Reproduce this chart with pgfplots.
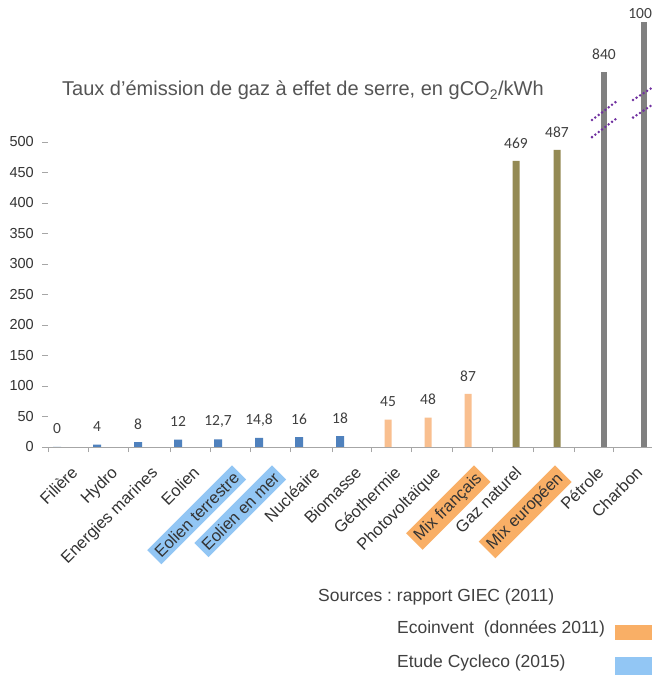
\documentclass[border=0pt]{standalone}
\usepackage{pgfplots}
\pgfplotsset{compat=1.18}
\usepackage{pgfplotstable}
\usepackage{fontspec}
\setmainfont{Liberation Sans}
\newfontfamily\calibri{Carlito}
\definecolor{barblue}{HTML}{4F81BD}
\definecolor{barorange}{HTML}{F9BF8F}
\definecolor{barolive}{HTML}{948A54}
\definecolor{bargray}{HTML}{808080}
\definecolor{hlblue}{HTML}{92C6F4}
\definecolor{hlorange}{HTML}{F9AF66}
\definecolor{breakpurple}{HTML}{7030A0}
\definecolor{txt}{HTML}{333333}
\definecolor{titlegray}{HTML}{555555}
\definecolor{labgray}{HTML}{404040}
\setlength{\fboxsep}{4pt}

\pgfplotstableread{
x y lab
57 0 0
97 4 4
138 8 8
178 12 12
218 12.7 12,7
259 14.8 14,8
299 16 16
340 18 18
}\bluedata
\pgfplotstableread{
x y lab
388 45 45
428 48 48
468 87 87
}\orangedata
\pgfplotstableread{
x y lab
516 469 469
557 487 487
}\olivedata
\pgfplotstableread{
x y lab
604 840 840
}\petroledata
\pgfplotstableread{
x y lab
644 1000 1000
}\charbondata

\begin{document}
\begin{tikzpicture}
\clip (0,0) rectangle (652pt,675pt);
\fill[white] (0,0) rectangle (652pt,675pt);
\begin{axis}[
  at={(48pt,228pt)}, anchor=south west,
  scale only axis, width=604pt, height=447pt,
  xmin=48, xmax=652, ymin=0, ymax=732.8,
  clip=false,
  axis lines*=left,
  y axis line style={draw=none},
  x axis line style={draw=black!35, line width=0.8pt},
  tick align=outside,
  major tick length=6pt,
  ytick={0,50,...,500},
  ytick style={draw=black!35, line width=0.8pt},
  yticklabel style={font=\fontsize{14.5}{16}\selectfont, text=txt, inner sep=0pt},
  yticklabel shift=8pt,
  /pgf/number format/assume math mode=true,
  xtick={70,110,150,192,232,272,312,354,393,433,474,514,555,596,635},
  xticklabels={Filière, Hydro, Energies marines, Eolien,
    {\colorbox{hlblue}{Eolien terrestre}}, {\colorbox{hlblue}{Eolien en mer}},
    Nucléaire, Biomasse, Géothermie, Photovoltaïque,
    {\colorbox{hlorange}{Mix français}}, Gaz naturel,
    {\colorbox{hlorange}{Mix européen}}, Pétrole, Charbon},
  xtick style={draw=none},
  xticklabel style={rotate=45, anchor=north east, inner sep=0pt,
    font=\fontsize{16.5}{18}\selectfont, text=txt},
  xticklabel shift=12pt,
  extra x ticks={48,88,128,170,210,250,290,332,371,411,452,492,533,574,613},
  extra x tick labels={},
  extra x tick style={xtick style={draw=black!35, line width=0.8pt}, major tick length=5pt},
  y filter/.expression={y>840 ? 615+(y-840)*82/160 : (y>500 ? 500+(y-500)*115/340 : y)},
]
\pgfplotsset{every axis plot/.append style={
  ybar, draw=none, nodes near coords, point meta=explicit symbolic,
  nodes near coords style={font=\calibri\fontsize{15.5}{15}\selectfont, text=labgray, anchor=center, yshift=18pt}}}
\addplot[fill=barblue, bar width=8pt] table[x=x,y=y,meta=lab]{\bluedata};
\addplot[fill=barorange, bar width=7pt] table[x=x,y=y,meta=lab]{\orangedata};
\addplot[fill=barolive, bar width=7pt] table[x=x,y=y,meta=lab]{\olivedata};
\addplot[fill=bargray, bar width=6pt] table[x=x,y=y,meta=lab]{\petroledata};
\addplot[fill=bargray, bar width=6pt, nodes near coords style={yshift=-10pt}] table[x=x,y=y,meta=lab]{\charbondata};
\begin{scope}[breakpurple, line width=2.8pt, dash pattern=on 0pt off 4.2pt, line cap=round]
\draw (axis cs:592,536) -- (axis cs:616,566);
\draw (axis cs:592,508) -- (axis cs:616,538);
\draw (axis cs:633,569) -- (axis cs:655,592);
\draw (axis cs:633,540) -- (axis cs:655,564);
\end{scope}
\end{axis}
\node[anchor=base west, inner sep=0pt, font=\fontsize{20}{24}\selectfont, text=titlegray] at (62pt,579pt) {Taux d’émission de gaz à effet de serre, en gCO\textsubscript{2}/kWh};
\node[anchor=base west, inner sep=0pt, font=\fontsize{17.5}{20}\selectfont, text=labgray] at (318pt,73pt) {Sources :\ rapport GIEC (2011)};
\node[anchor=base west, inner sep=0pt, font=\fontsize{17.5}{20}\selectfont, text=labgray] at (397pt,41pt) {Ecoinvent \ (données 2011)};
\node[anchor=base west, inner sep=0pt, font=\fontsize{17.5}{20}\selectfont, text=labgray] at (397pt,7pt) {Etude Cycleco (2015)};
\fill[hlorange] (615pt,35pt) rectangle (652pt,50pt);
\fill[hlblue] (615pt,0pt) rectangle (652pt,18pt);
\end{tikzpicture}
\end{document}
